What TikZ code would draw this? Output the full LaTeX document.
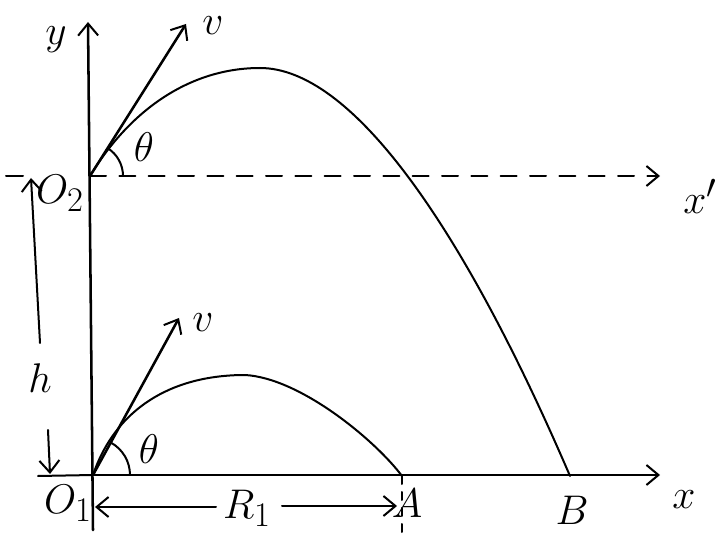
\documentclass[tikz,border=0pt]{standalone}
\usepackage{graphicx}
\usetikzlibrary{arrows.meta}
\newcommand{\handlab}[1]{\scalebox{1.25}{$#1$}}
\tikzset{
  hand/.style={line width=1.5pt, line cap=round, line join=round},
  axis/.style={hand, line width=1.9pt},
  barb/.style={-{Straight Barb[length=9pt,width=15pt,line width=1.5pt]}},
  lbl/.style={inner sep=0.75pt, font=\Huge},
}
\begin{document}
\begin{tikzpicture}[x=0.75pt,y=0.75pt,yscale=-1,xscale=1]
	\path[use as bounding box] (0,0) rectangle (719,535);
	
	% Points
	\coordinate (O1) at (93,475);
	\coordinate (O2) at (90,176);
	\coordinate (A) at (402,476);
	\coordinate (B) at (570,476);
	\coordinate (Xend) at (660,475);
	\coordinate (Yend) at (88,22);
	\coordinate (Ybot) at (93,530);
	\coordinate (Xpend) at (660,176);
	\coordinate (V1) at (186,24);
	\coordinate (V2) at (179,318);
	\coordinate (Atick) at (402,535);
	
	% Axes
	\draw [axis,barb] (Ybot) -- (Yend);
	\draw [axis,barb] (O1) -- (Xend);
	\draw [hand,barb,dash pattern={on 12pt off 10pt}] (O2) -- (Xpend);
	\draw [hand,dash pattern={on 6pt off 6pt}] (A) -- (Atick);
	
	% Velocity vectors
	\draw [axis,barb] (O2) -- (V1);
	\draw [axis,barb] (O1) -- (V2);
	
	% Trajectories
	\draw [hand] (O2) .. controls (130,110) and (190,68) .. (260,68) .. controls (350,68) and (460,220) .. (B);
	\draw [hand] (O1) .. controls (115,410) and (170,375) .. (245,375) .. controls (300,378) and (375,440) .. (A);
	
	% Angles
	\draw [hand] (O2) ++(33,0) arc [start angle=0, end angle=-57, radius=33];
	\draw [hand] (O1) ++(37,0) arc [start angle=0, end angle=-61, radius=37];
	
	% Height h
	\coordinate (Htop) at (31,178);
	\coordinate (Hup) at (40,343);
	\coordinate (Hdown) at (48,430);
	\coordinate (Hbot) at (50,474);
	\coordinate (Ttop) at (6,176);
	\coordinate (Tbot) at (38,476);
	\draw [hand] (Ttop) -- (23,176);
	\draw [hand] (Tbot) -- (O1);
	\draw [hand,barb] (Hup) -- (Htop);
	\draw [hand,barb] (Hdown) -- (Hbot);
	
	% Range R1
	\coordinate (Rl) at (95,507);
	\coordinate (Ra) at (216,507);
	\coordinate (Rb) at (282,506);
	\coordinate (Rr) at (397,506);
	\draw [hand,barb] (Ra) -- (Rl);
	\draw [hand,barb] (Rb) -- (Rr);
	
	% Text Node
	\node [lbl] (ly) at (56,40) {\handlab{y}};
	% Text Node
	\node [lbl] (lv1) at (213,26) {\handlab{v}};
	% Text Node
	\node [lbl] (lt1) at (144,147) {\handlab{\theta}};
	% Text Node
	\node [lbl] (lo2) at (60,193) {\handlab{O_2}};
	% Text Node
	\node [lbl] (lxp) at (700,196) {\handlab{x'}};
	% Text Node
	\node [lbl] (lh) at (40,378) {\handlab{h}};
	% Text Node
	\node [lbl] (lv2) at (203,323) {\handlab{v}};
	% Text Node
	\node [lbl] (lt2) at (149,449) {\handlab{\theta}};
	% Text Node
	\node [lbl] (lo1) at (68,503) {\handlab{O_1}};
	% Text Node
	\node [lbl] (lr1) at (247,508) {\handlab{R_1}};
	% Text Node
	\node [lbl] (la) at (407,503) {\handlab{A}};
	% Text Node
	\node [lbl] (lb) at (572,510) {\handlab{B}};
	% Text Node
	\node [lbl] (lx) at (684,500) {\handlab{x}};
	
\end{tikzpicture}
\end{document}
